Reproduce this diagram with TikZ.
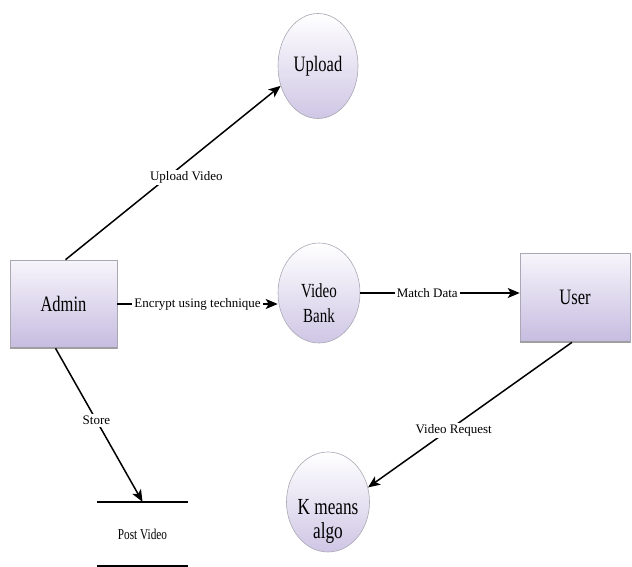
\documentclass[tikz,border=0pt]{standalone}
\usepackage{fontspec}
\setmainfont{Liberation Serif}
\newfontfamily\narrowserif{Liberation Serif}[FakeStretch=0.75]
\usetikzlibrary{arrows.meta, positioning, shapes.geometric}

\definecolor{lavtop}{RGB}{247,245,251}
\definecolor{lavbot}{RGB}{198,188,224}
\definecolor{rim}{RGB}{170,168,180}

\tikzset{
  entity/.style={rectangle, draw=rim, line width=0.6pt, top color=lavtop, bottom color=lavbot,
    minimum width=107pt, minimum height=88pt, font=\narrowserif\fontsize{22}{24}\selectfont},
  bubble/.style={ellipse, draw=rim, line width=0.6pt, top color=white, bottom color=lavbot!85, inner sep=0pt},
  bigtext/.style={font=\narrowserif\fontsize{22}{25}\selectfont, align=center},
  flow/.style={line width=1.5pt, -{Stealth[length=12pt,width=10pt,inset=3pt]}},
  flowlabel/.style={fill=white, inner sep=2pt, font=\fontsize{13}{15}\selectfont},
  shadowline/.style={draw=gray!75, line width=2pt},
  storeline/.style={line width=2pt}
}

\begin{document}
\begin{tikzpicture}[x=1pt, y=-1pt]
  \useasboundingbox (0,0) rectangle (632,567);
  % external entities
  \node[entity] (admin) at (63.5,304) {Admin};
  \node[entity, minimum width=110pt, minimum height=89pt] (user) at (575,297.5) {User};
  \draw[shadowline] (admin.south west) -- (admin.south east);
  \draw[shadowline] (user.south west) -- (user.south east);
  % processes
  \node[bubble, bigtext, minimum width=80pt, minimum height=105pt] (upload) at (318,66) {Upload};
  \node[bubble, minimum width=82pt, minimum height=100pt] (videobank) at (319,293) {};
  \node[bigtext, font=\narrowserif\fontsize{20}{25}\selectfont] (videobanktxt) at (319,303) {Video\\Bank};
  \node[bubble, minimum width=83pt, minimum height=100pt] (kmeans) at (328,502) {};
  \node[bigtext, font=\narrowserif\fontsize{23}{24}\selectfont] (kmeanstxt) at (328,521) {K means\\algo};
  % data store
  \node[font=\narrowserif\fontsize{15}{17}\selectfont, minimum width=91pt, minimum height=64pt] (postvideo) at (142.5,534) {Post Video};
  \draw[storeline] (postvideo.north west) -- (postvideo.north east);
  \draw[storeline] (postvideo.south west) -- (postvideo.south east);
  % flows
  \draw[flow] ([xshift=2pt]admin.north) -- (upload.208) node[flowlabel, pos=0.45, xshift=24pt, yshift=4pt] {Upload Video};
  \draw[flow] (admin.east) -- (admin.east -| videobank.west) node[flowlabel, midway] {Encrypt using technique};
  \draw[flow] (videobank.east) -- (videobank.east -| user.west) node[flowlabel, pos=0.42] {Match Data};
  \draw[flow] ([xshift=-3pt]user.south) -- (kmeans.20) node[flowlabel, pos=0.58, yshift=-4pt] {Video Request};
  \draw[flow] ([xshift=-8pt]admin.south) -- (postvideo.north) node[flowlabel, pos=0.47] {Store};
\end{tikzpicture}
\end{document}
